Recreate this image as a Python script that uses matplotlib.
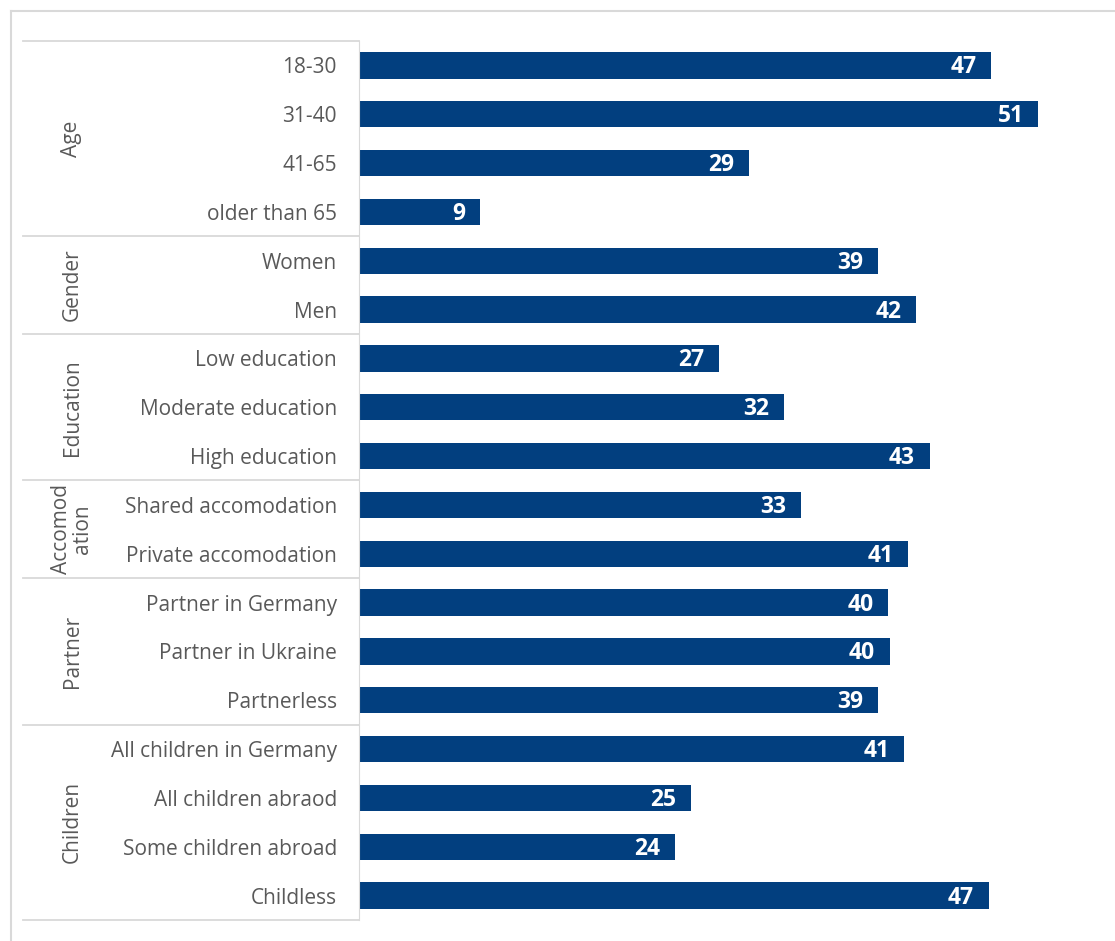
import matplotlib
matplotlib.use("Agg")
import matplotlib.pyplot as plt
from matplotlib.lines import Line2D

plt.rcParams['font.family'] = ['Open Sans', 'DejaVu Sans']

# data (top to bottom)
categories = ["18-30", "31-40", "41-65", "older than 65",
              "Women", "Men",
              "Low education", "Moderate education", "High education",
              "Shared accomodation", "Private accomodation",
              "Partner in Germany", "Partner in Ukraine", "Partnerless",
              "All children in Germany", "All children abraod",
              "Some children abroad", "Childless"]
values = [47.2, 50.7, 29.1, 9.0,
          38.7, 41.6,
          26.9, 31.7, 42.6,
          33.0, 41.0,
          39.5, 39.6, 38.7,
          40.7, 24.8, 23.6, 47.0]
groups = ["Age", "Gender", "Education", "Accomod\nation", "Partner", "Children"]
group_sizes = [4, 2, 3, 2, 3, 4]

bar_color = "#023F7F"
text_color = "#595959"
line_color = "#D9D9D9"

W, H = 1115, 941
fig = plt.figure(figsize=(W / 100, H / 100), dpi=100)
ax = fig.add_axes([359 / W, 21 / H, 741 / W, 879 / H])

n = len(categories)
ypos = list(range(n))
ax.barh(ypos, values, height=0.54, color=bar_color)
ax.set_ylim(n - 0.5, -0.5)
ax.set_xlim(0, 55.3)

for y, v in zip(ypos, values):
    ax.text(v - 1.1, y + 0.04, f"{v:.0f}", ha="right", va="center",
            color="white", fontweight="bold", fontsize=16.5)

ax.set_yticks(ypos)
ax.set_yticklabels(categories, fontsize=15, color=text_color)
ax.tick_params(axis="y", length=0, pad=16)
ax.set_xticks([])
for s in ["top", "right", "bottom"]:
    ax.spines[s].set_visible(False)
ax.spines["left"].set_color(line_color)

# group separators and labels
trans = ax.get_yaxis_transform()
x_left = (23 - 359) / 741
x_grp = (72 - 359) / 741
start = 0
for g, size in zip(groups, group_sizes):
    ax.add_line(Line2D([x_left, 0], [start - 0.5, start - 0.5], transform=trans,
                       color=line_color, lw=1.3, clip_on=False))
    mid = start + (size - 1) / 2
    ax.text(x_grp, mid, g, transform=trans, rotation=90, ha="center", va="center",
            fontsize=15, color=text_color, linespacing=1.05)
    start += size
ax.add_line(Line2D([x_left, 0], [n - 0.5, n - 0.5], transform=trans,
                   color=line_color, lw=1.3, clip_on=False))

# chart border
fig.add_artist(Line2D([11 / W, 11 / W], [0, 1 - 11 / H], color=line_color, lw=1.5))
fig.add_artist(Line2D([11 / W, 1], [1 - 11 / H, 1 - 11 / H], color=line_color, lw=1.5))

fig.savefig("out.png", dpi=100)
